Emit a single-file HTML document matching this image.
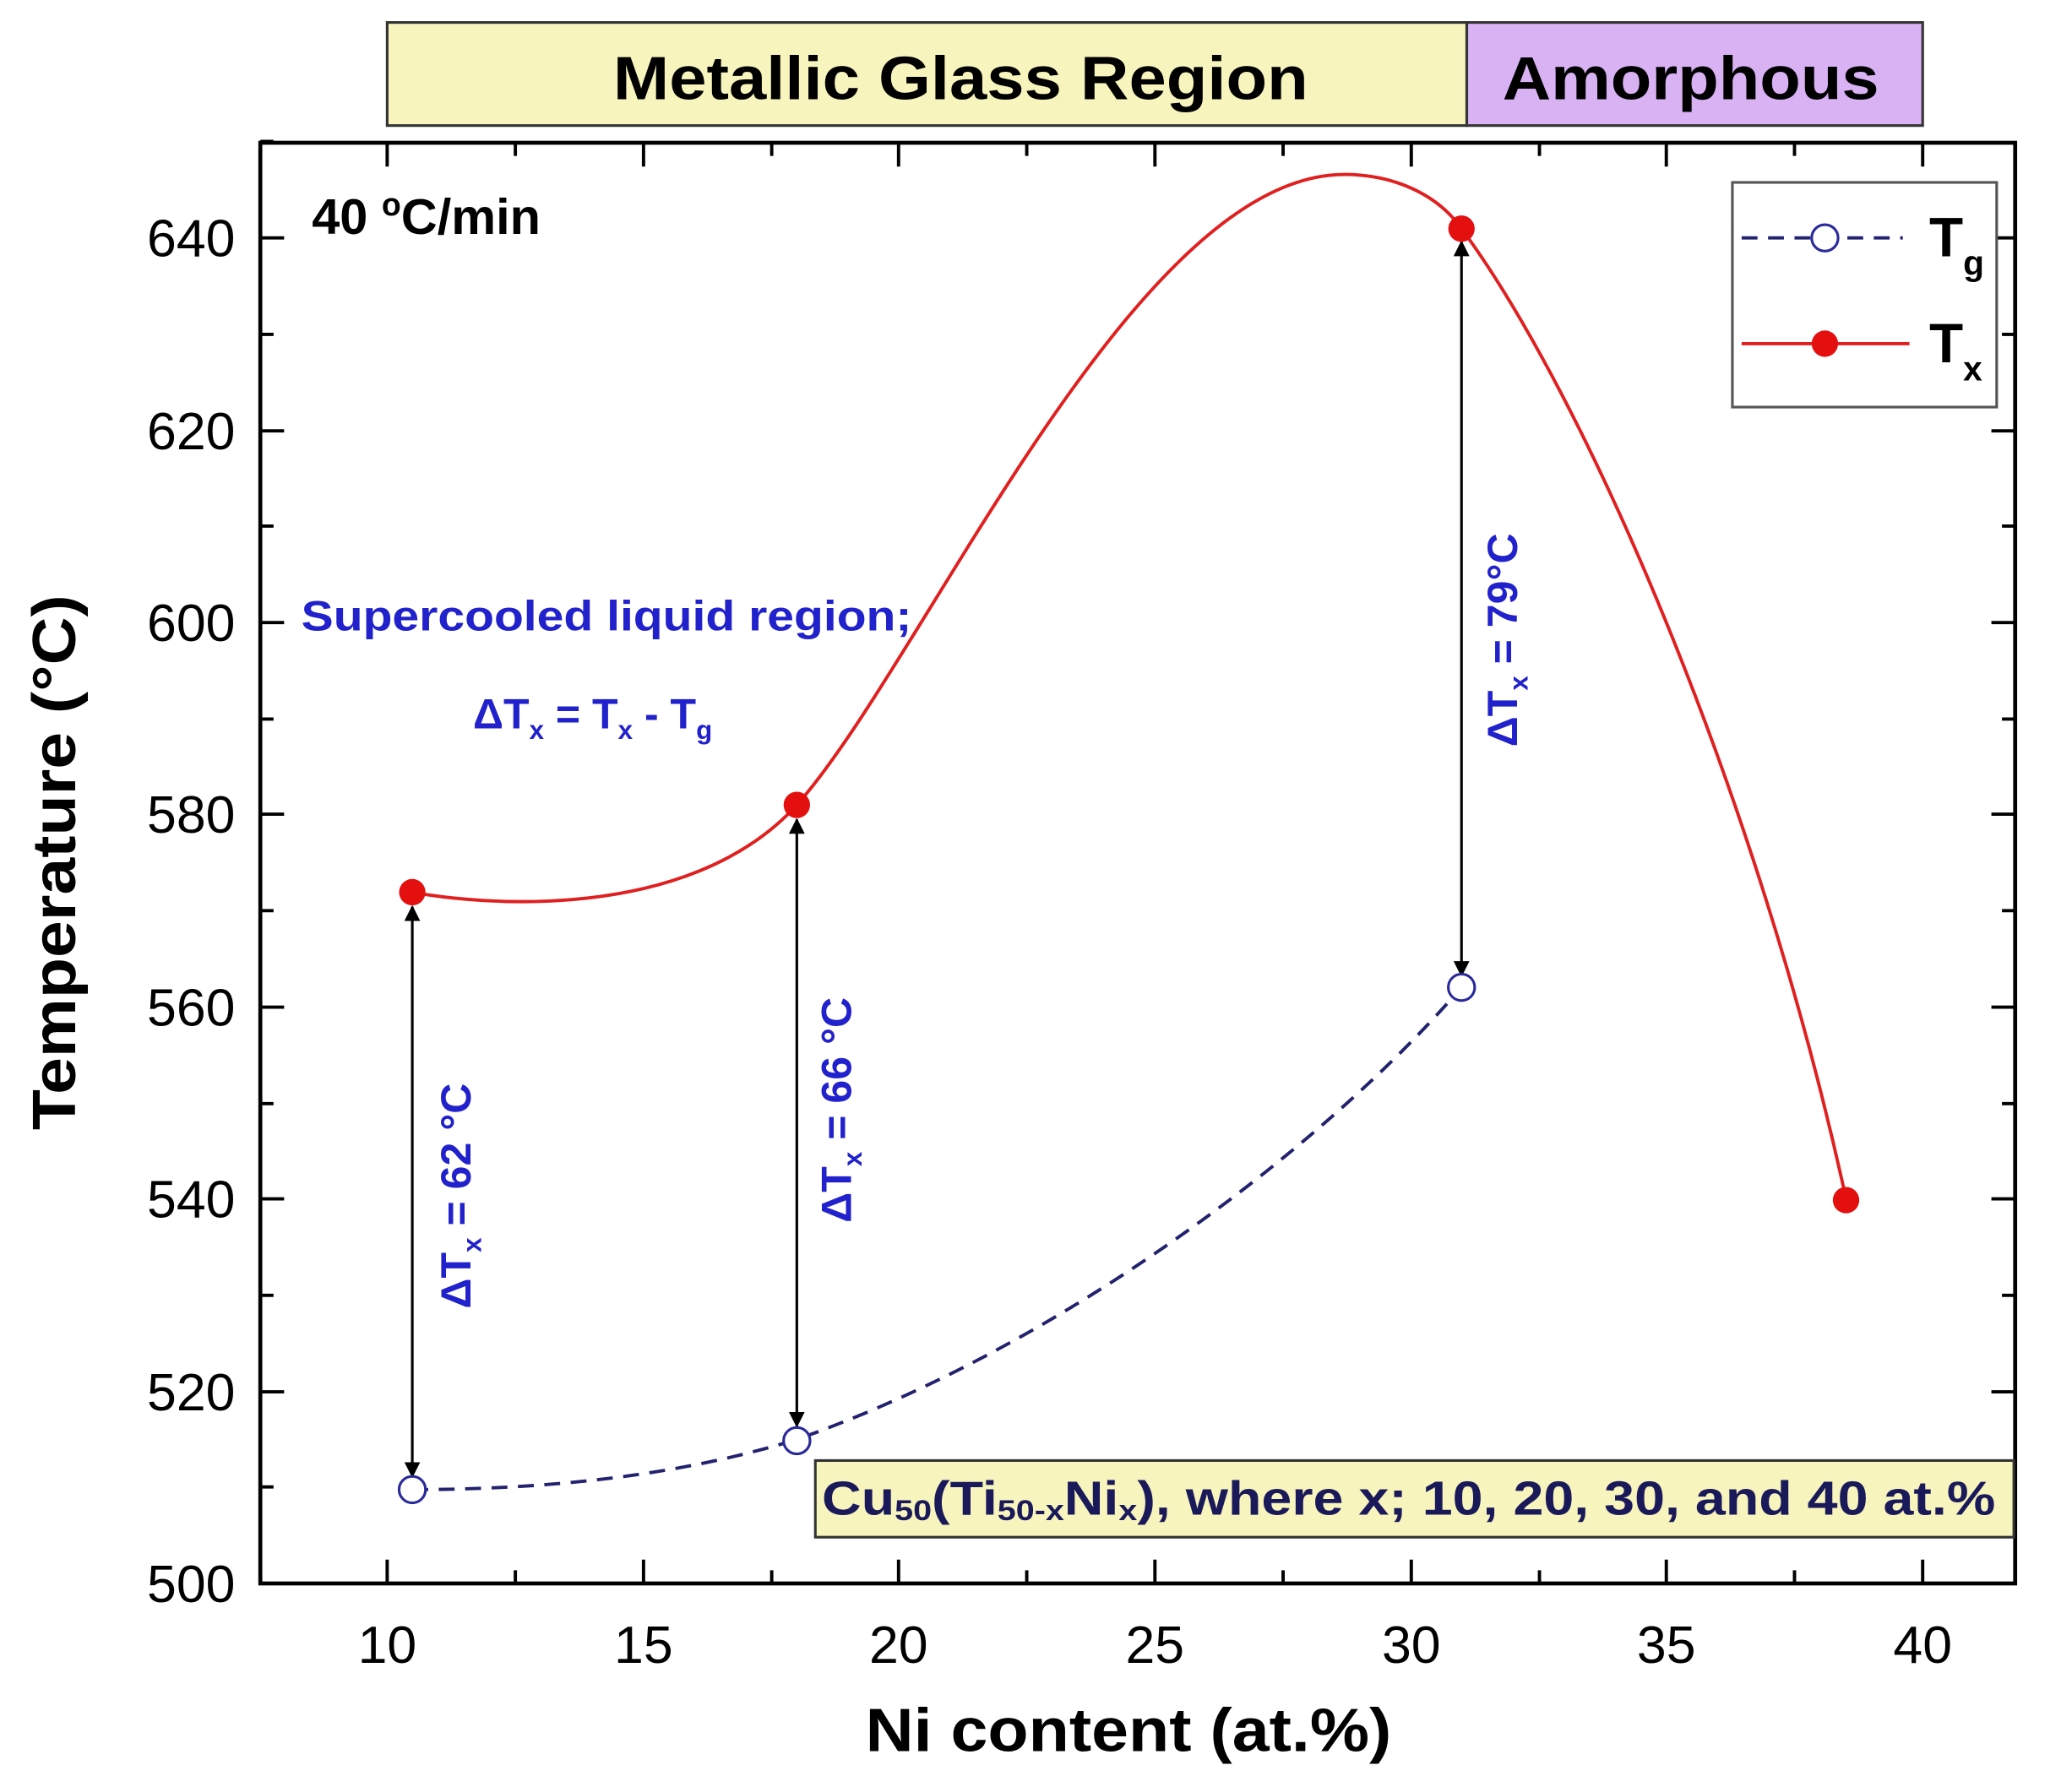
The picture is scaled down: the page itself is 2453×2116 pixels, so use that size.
<!DOCTYPE html>
<html><head><meta charset="utf-8"><style>html,body{margin:0;padding:0;background:#fff}svg{display:block}</style></head>
<body>
<svg width="2453" height="2116" viewBox="0 0 1568 1352" preserveAspectRatio="none" xmlns="http://www.w3.org/2000/svg" font-family="Liberation Sans, Arial, sans-serif">
<defs>
<marker id="ah" viewBox="0 0 10 10" refX="9" refY="5" markerWidth="6" markerHeight="6" orient="auto-start-reverse"><path d="M0,0 L10,5 L0,10 z" fill="#000"/></marker>
</defs>
<rect x="293" y="17" width="817" height="78" fill="#f8f4bd" stroke="#333" stroke-width="2"/>
<rect x="1110" y="17" width="345" height="78" fill="#d8b2f3" stroke="#333" stroke-width="2"/>
<text x="464" y="75" font-size="46" font-weight="bold" textLength="526" lengthAdjust="spacingAndGlyphs">Metallic Glass Region</text>
<text x="1137" y="75" font-size="46" font-weight="bold" textLength="285" lengthAdjust="spacingAndGlyphs">Amorphous</text>
<rect x="197" y="108" width="1328" height="1090" fill="none" stroke="#000" stroke-width="3"/>
<g stroke="#000" stroke-width="2.5">
<path d="M293,1198v-18M390,1198v-10M487,1198v-18M584,1198v-10M680,1198v-18M777,1198v-10M874,1198v-18M971,1198v-10M1068,1198v-18M1165,1198v-10M1261,1198v-18M1358,1198v-10M1455,1198v-18"/>
<path d="M293,108v18M390,108v10M487,108v18M584,108v10M680,108v18M777,108v10M874,108v18M971,108v10M1068,108v18M1165,108v10M1261,108v18M1358,108v10M1455,108v18"/>
<path d="M197,1198h18M197,1125h10M197,1053h18M197,980h10M197,907h18M197,835h10M197,762h18M197,689h10M197,616h18M197,544h10M197,471h18M197,398h10M197,326h18M197,253h10M197,180h18M197,107h10"/>
<path d="M1525,1198h-18M1525,1125h-10M1525,1053h-18M1525,980h-10M1525,907h-18M1525,835h-10M1525,762h-18M1525,689h-10M1525,616h-18M1525,544h-10M1525,471h-18M1525,398h-10M1525,326h-18M1525,253h-10M1525,180h-18"/>
</g>
<g font-size="40" text-anchor="middle">
<text x="293" y="1258">10</text><text x="487" y="1258">15</text><text x="680" y="1258">20</text><text x="874" y="1258">25</text><text x="1068" y="1258">30</text><text x="1261" y="1258">35</text><text x="1455" y="1258">40</text>
</g>
<g font-size="40" text-anchor="end">
<text x="178" y="1212">500</text><text x="178" y="1067">520</text><text x="178" y="921">540</text><text x="178" y="776">560</text><text x="178" y="630">580</text><text x="178" y="485">600</text><text x="178" y="340">620</text><text x="178" y="194">640</text>
</g>
<text x="655" y="1325" font-size="46" font-weight="bold" textLength="398" lengthAdjust="spacingAndGlyphs">Ni content (at.%)</text>
<text transform="translate(57,855) rotate(-90)" font-size="46" font-weight="bold" textLength="405" lengthAdjust="spacingAndGlyphs">Temperature (°C)</text>
<text x="236" y="177" font-size="38" font-weight="bold">40 <tspan dy="-14" font-size="24">o</tspan><tspan dy="14">C/min</tspan></text>
<path d="M312,675 C360,684 520,700 603,609 C700,500 860,128 1020,132 C1060,133 1090,150 1106,173 C1200,300 1330,600 1397,907" fill="none" stroke="#e02020" stroke-width="2.5"/>
<path d="M312,1127 C420,1127 520,1115 603,1089 C800,1020 1000,870 1106,747" fill="none" stroke="#22226e" stroke-width="2.5" stroke-dasharray="12,8"/>
<g stroke="#000" stroke-width="2" marker-start="url(#ah)" marker-end="url(#ah)">
<line x1="312" y1="686" x2="312" y2="1117"/>
<line x1="603" y1="620" x2="603" y2="1079"/>
<line x1="1106" y1="183" x2="1106" y2="738"/>
</g>
<g fill="#e41010"><circle cx="312" cy="675" r="10"/><circle cx="603" cy="609" r="10"/><circle cx="1106" cy="173" r="10"/><circle cx="1397" cy="908" r="10"/></g>
<g fill="#fff" stroke="#2a2a9a" stroke-width="2"><circle cx="312" cy="1127" r="10"/><circle cx="603" cy="1090" r="10"/><circle cx="1106" cy="747" r="10"/></g>
<g fill="#2222cc" font-weight="bold">
<text x="228" y="477" font-size="32" textLength="462" lengthAdjust="spacingAndGlyphs">Supercooled liquid region;</text>
<text x="358" y="551" font-size="32">ΔT<tspan dy="8" font-size="20">x</tspan><tspan dy="-8"> = T</tspan><tspan dy="8" font-size="20">x</tspan><tspan dy="-8"> - T</tspan><tspan dy="8" font-size="20">g</tspan></text>
<text transform="translate(356,990) rotate(-90)" font-size="32">ΔT<tspan dy="8" font-size="20">x</tspan><tspan dy="-8"> = 62 °C</tspan></text>
<text transform="translate(644,925) rotate(-90)" font-size="32">ΔT<tspan dy="8" font-size="20">x</tspan><tspan dy="-8"> = 66 °C</tspan></text>
<text transform="translate(1148,565) rotate(-90)" font-size="32">ΔT<tspan dy="8" font-size="20">x</tspan><tspan dy="-8"> = 79°C</tspan></text>
</g>
<rect x="1311" y="138" width="200" height="170" fill="#fff" stroke="#555" stroke-width="2"/>
<line x1="1318" y1="180" x2="1440" y2="180" stroke="#22226e" stroke-width="2.5" stroke-dasharray="12,8"/>
<circle cx="1381" cy="180" r="10" fill="#fff" stroke="#2a2a9a" stroke-width="2"/>
<line x1="1318" y1="260" x2="1445" y2="260" stroke="#e02020" stroke-width="2.5"/>
<circle cx="1381" cy="260" r="10" fill="#e41010"/>
<text x="1460" y="194" font-size="42" font-weight="bold">T<tspan dy="14" font-size="26">g</tspan></text>
<text x="1460" y="274" font-size="42" font-weight="bold">T<tspan dy="14" font-size="26">x</tspan></text>
<rect x="617" y="1105" width="907" height="58" fill="#f8f4bd" stroke="#333" stroke-width="2"/>
<text x="622" y="1146" font-size="36" font-weight="bold" fill="#1a1a5a" textLength="888" lengthAdjust="spacingAndGlyphs">Cu<tspan font-size="22" dy="4">50</tspan><tspan dy="-4">(Ti</tspan><tspan font-size="22" dy="4">50-x</tspan><tspan dy="-4">Ni</tspan><tspan font-size="22" dy="4">x</tspan><tspan dy="-4">), where x; 10, 20, 30, and 40 at.%</tspan></text>
</svg>
</body></html>
